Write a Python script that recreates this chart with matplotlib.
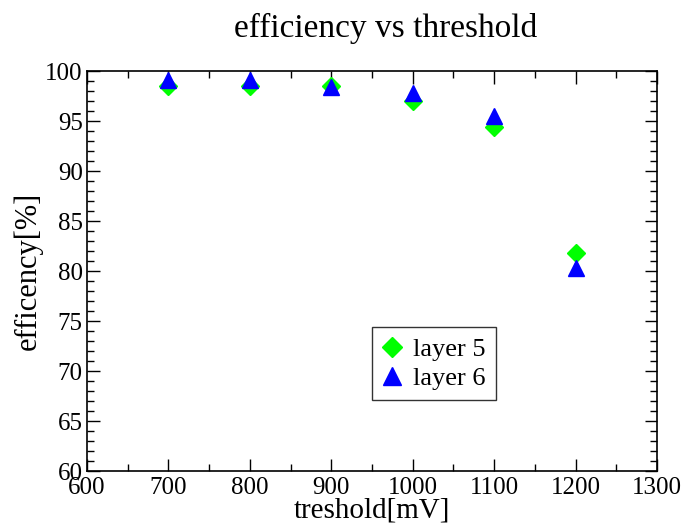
import matplotlib
matplotlib.use('Agg')
import matplotlib.pyplot as plt
from matplotlib.ticker import MultipleLocator

plt.rcParams['font.family'] = ['Liberation Serif', 'DejaVu Serif']
plt.rcParams['mathtext.fontset'] = 'stix'

threshold = [700, 800, 900, 1000, 1100, 1200]
layer5 = [98.5, 98.5, 98.5, 97.0, 94.4, 81.8]
layer6 = [99.1, 99.1, 98.4, 97.8, 95.5, 80.3]

fig = plt.figure(figsize=(6.83, 5.26), dpi=100)
ax = fig.add_axes([87 / 683, 55 / 526, 570 / 683, 400 / 526])

ax.plot(threshold, layer5, linestyle='none', marker='D', markersize=9.5,
        color='#00ff00', label='layer 5', zorder=3)
ax.plot(threshold, layer6, linestyle='none', marker='^', markersize=12,
        color='#0000ff', label='layer 6', zorder=4)

ax.set_xlim(600, 1300)
ax.set_ylim(60, 100)
ax.xaxis.set_major_locator(MultipleLocator(100))
ax.xaxis.set_minor_locator(MultipleLocator(50))
ax.yaxis.set_major_locator(MultipleLocator(5))
ax.yaxis.set_minor_locator(MultipleLocator(1))
ax.tick_params(which='both', direction='in', top=True, right=True,
               labelsize=18, width=1)
ax.tick_params(axis='x', which='both', pad=4)
ax.tick_params(axis='y', which='both', pad=3)
ax.tick_params(which='major', length=9)
ax.tick_params(which='minor', length=5)
for s in ax.spines.values():
    s.set_linewidth(1.2)

ax.set_xlabel('treshold[mV]', fontsize=21, labelpad=-1)
ax.set_ylabel('efficency[%]', fontsize=22, labelpad=2)
fig.text(0.565, 0.946, 'efficiency vs threshold', ha='center', va='center',
         fontsize=24)

leg = ax.legend(loc='upper left', bbox_to_anchor=(285 / 570, 144 / 400),
                fontsize=19, frameon=True, fancybox=False, edgecolor='black',
                borderpad=0.4, handletextpad=0.45, handlelength=0.7,
                labelspacing=0.2, borderaxespad=0, markerscale=1.05)
leg.get_frame().set_linewidth(1.0)

fig.savefig('out.png', dpi=100)
